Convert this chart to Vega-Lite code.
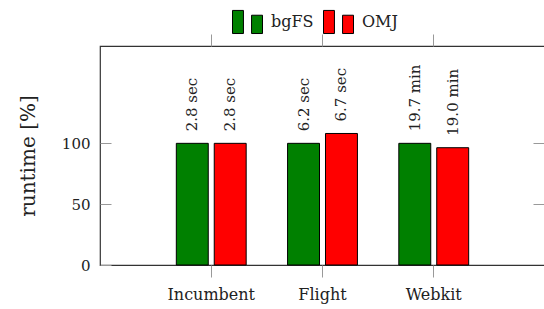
{
  "$schema": "https://vega.github.io/schema/vega-lite/v6.json",
  "autosize": {"type": "none"},
  "padding": {"left": 100, "top": 46, "right": 0, "bottom": 44},
  "width": 445,
  "height": 219,
  "background": "white",
  "config": {
    "view": {"stroke": "#333333", "strokeWidth": 1.2},
    "font": "DejaVu Serif",
    "axis": {"labelFont": "DejaVu Serif", "titleFont": "DejaVu Serif"},
    "legend": {"labelFont": "DejaVu Serif"},
    "text": {"font": "DejaVu Serif"}
  },
  "data": {
    "values": [
      {"dataset": "Incumbent", "method": "bgFS", "runtime": 100, "label": "2.8 sec"},
      {"dataset": "Incumbent", "method": "OMJ", "runtime": 100, "label": "2.8 sec"},
      {"dataset": "Flight", "method": "bgFS", "runtime": 100, "label": "6.2 sec"},
      {"dataset": "Flight", "method": "OMJ", "runtime": 108.1, "label": "6.7 sec"},
      {"dataset": "Webkit", "method": "bgFS", "runtime": 100, "label": "19.7 min"},
      {"dataset": "Webkit", "method": "OMJ", "runtime": 96.4, "label": "19.0 min"}
    ]
  },
  "layer": [
    {
      "mark": {"type": "bar", "stroke": "black", "strokeWidth": 1},
      "encoding": {
        "x": {
          "field": "dataset", "type": "nominal", "sort": ["Incumbent", "Flight", "Webkit"],
          "scale": {"paddingInner": 0, "paddingOuter": 0.5},
          "axis": {"orient": "bottom", "title": null, "domain": false, "labelAngle": 0, "tickSize": 12, "tickColor": "#999999", "labelPadding": 9, "labelFont": "DejaVu Serif", "labelFontSize": 16, "labelColor": "#222222"}
        },
        "xOffset": {
          "field": "method", "type": "nominal", "sort": ["bgFS", "OMJ"],
          "scale": {"paddingInner": 0.158, "paddingOuter": 0.546}
        },
        "y": {
          "field": "runtime", "type": "quantitative",
          "scale": {"domain": [0, 180], "nice": false},
          "axis": {"orient": "left", "values": [0, 50, 100], "title": "runtime [%]", "titleFont": "DejaVu Serif", "titleFontSize": 20, "titleFontWeight": "normal", "titleColor": "#222222", "titlePadding": 23, "domain": false, "grid": false, "tickSize": -11, "tickColor": "#999999", "labelPadding": 21, "labelFont": "DejaVu Serif", "labelFontSize": 15, "labelColor": "#222222"}
        },
        "fill": {
          "field": "method", "type": "nominal", "sort": ["bgFS", "OMJ"],
          "scale": {"domain": ["bgFS", "OMJ"], "range": ["#008000", "#ff0000"]},
          "legend": {
            "orient": "none", "legendX": 132, "legendY": -40, "direction": "horizontal", "title": null,
            "symbolType": "M-1,-0.77H-0.27V0.77H-1Z M0.27,-0.45H1V0.77H0.27Z",
            "symbolSize": 900, "symbolStrokeColor": "black", "symbolStrokeWidth": 1, "symbolOpacity": 1,
            "labelFont": "DejaVu Serif", "labelFontSize": 16, "labelOffset": 8, "columnPadding": 7, "labelColor": "#222222"
          }
        }
      }
    },
    {
      "mark": {"type": "text", "angle": 270, "align": "left", "baseline": "middle", "dx": 12, "font": "DejaVu Serif", "fontSize": 15, "color": "#222222"},
      "encoding": {
        "x": {
          "field": "dataset", "type": "nominal", "sort": ["Incumbent", "Flight", "Webkit"],
          "scale": {"paddingInner": 0, "paddingOuter": 0.5},
          "axis": {"orient": "top", "title": null, "domain": false, "labels": false, "tickSize": 12, "tickColor": "#999999"}
        },
        "xOffset": {
          "field": "method", "type": "nominal", "sort": ["bgFS", "OMJ"],
          "scale": {"paddingInner": 0.158, "paddingOuter": 0.546}
        },
        "y": {
          "field": "runtime", "type": "quantitative",
          "scale": {"domain": [0, 180], "nice": false},
          "axis": {"orient": "right", "values": [50, 100], "title": null, "domain": false, "grid": false, "labels": false, "tickSize": -12, "tickColor": "#999999"}
        },
        "text": {"field": "label"}
      }
    }
  ],
  "resolve": {"axis": {"x": "independent", "y": "independent"}}
}
